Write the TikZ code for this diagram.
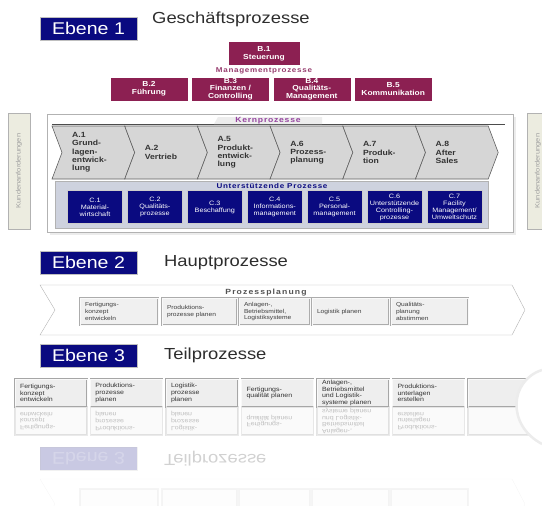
\documentclass[tikz,border=0pt]{standalone}
\usepackage{fontspec}
\setmainfont{Liberation Sans}[FakeStretch=1.15]
\usetikzlibrary{positioning}
\definecolor{ebenenblau}{RGB}{10,10,128}
\definecolor{mgmtrot}{RGB}{140,32,82}
\definecolor{mgmttext}{RGB}{150,60,110}
\definecolor{kerntext}{RGB}{150,70,160}
\definecolor{kerngrau}{RGB}{214,214,214}
\definecolor{stuetzgrau}{RGB}{206,210,222}
\definecolor{seitenbeige}{RGB}{236,236,224}
\definecolor{titelgrau}{RGB}{45,45,45}
\tikzset{
  ebene/.style={fill=ebenenblau, draw=gray!50, text=white, minimum width=97pt, minimum height=23pt, inner sep=0pt, font=\fontsize{17}{17}\selectfont},
  titel/.style={anchor=west, inner sep=0pt, text=titelgrau, font=\fontsize{16}{16}\selectfont},
  mgmt/.style={fill=mgmtrot, draw=white, text=white, minimum width=78pt, minimum height=24pt, inner sep=0pt, align=center, font=\fontsize{7.3}{7.6}\selectfont\bfseries},
  sperr/.style={inner sep=0pt, font=\fontsize{7}{7}\selectfont\bfseries\addfontfeature{LetterSpace=10}},
  kern/.style={fill=kerngrau, draw=gray!75!black, line width=0.6pt},
  kerntext/.style={anchor=west, align=left, inner sep=0pt, text=black!80, font=\fontsize{7.5}{8.3}\selectfont\bfseries},
  stuetz/.style={fill=ebenenblau, draw=gray!40, text=white, minimum width=55pt, minimum height=33pt, inner sep=1pt, align=center, font=\fontsize{6.3}{7}\selectfont},
  seite/.style={fill=seitenbeige, draw=gray!60, rotate=90, minimum width=116pt, minimum height=22pt, inner sep=0pt, text=gray!75, font=\fontsize{6.5}{6.5}\selectfont},
  planbox/.style={fill=gray!12, draw=gray!65, double=gray!5, double distance=0.8pt, text width=#1, minimum height=27pt, inner xsep=5pt, align=left, text=black!75, font=\fontsize{5.8}{6.8}\selectfont},
  teilbox/.style={fill=gray!13, draw=gray!70, double=gray!5, double distance=0.8pt, text width=#1, minimum height=28pt, inner xsep=5pt, inner ysep=0.3pt, align=left, text=black!80, font=\fontsize{6.1}{6.6}\selectfont}
}
\newcommand{\kernpfeil}[3]{%
  \draw[kern] (#1,126) -- ++(72.7,0) -- ++(10,26.5) -- ++(-10,26.5) -- ++(-72.7,0) -- ++(10,-26.5) -- cycle;
  \node[kerntext] (#2) at (#1+20,152.5) {#3};
}
\newcommand{\ebenekopf}[4]{%
  \node[ebene] (#1) at (88.5,#2) {#3};
  \node[titel] (#1titel) at (164,#2) {#4};
}
\newcommand{\planumriss}{%
  \draw[fill=white, draw=gray!60] (40,285) -- (512,285) -- (525,310) -- (512,335) -- (40,335) -- (55,310) -- cycle;
}
\newcommand{\planpfeil}[1]{%
  \planumriss
  \node[sperr, text=gray!65!black, font=\fontsize{7.5}{7.5}\selectfont\bfseries\addfontfeature{LetterSpace=15}] (#1titel) at (266,293) {Prozessplanung};
  \node[planbox=68pt] (#1p1) at (119,311.5) {Fertigungs-\\konzept\\entwickeln};
  \node[planbox=65pt] (#1p2) at (199.5,311.5) {Produktions-\\prozesse planen};
  \node[planbox=61pt] (#1p3) at (274.5,311.5) {Anlagen-,\\Betriebsmittel,\\Logistiksysteme};
  \node[planbox=67pt] (#1p4) at (350.5,311.5) {Logistik planen};
  \node[planbox=67pt] (#1p5) at (429.5,311.5) {Qualitäts-\\planung\\abstimmen};
}
\newcommand{\teilreihe}[1]{%
  \node[teilbox=62pt] (#1t1) at (51,393) {Fertigungs-\\konzept\\entwickeln};
  \node[teilbox=62pt] (#1t2) at (126.5,393) {Produktions-\\prozesse\\planen};
  \node[teilbox=62pt] (#1t3) at (202,393) {Logistik-\\prozesse\\planen};
  \node[teilbox=62pt] (#1t4) at (277.5,393) {Fertigungs-\\qualität planen};
  \node[teilbox=62pt] (#1t5) at (353,393) {Anlagen-,\\Betriebsmittel\\und Logistik-\\systeme planen};
  \node[teilbox=62pt] (#1t6) at (428.5,393) {Produktions-\\unterlagen\\erstellen};
  \node[teilbox=64pt] (#1t7) at (505,393) {};
}

\begin{document}
\begin{tikzpicture}[x=1pt, y=-1pt]
\useasboundingbox (0,0) rectangle (542,506);
\clip (0,0) rectangle (542,506);

% Ebene 1
\node[ebene] (e1) at (88.5,28.5) {Ebene 1};
\node[titel] (e1titel) at (152,19) {Geschäftsprozesse};

% Managementprozesse
\node[mgmt, minimum width=72pt] (b1) at (264,53.5) {B.1\\Steuerung};
\node[sperr, text=mgmttext] (mgmt) at (264,71) {Managementprozesse};
\node[mgmt] (b2) at (149,89) {B.2\\Führung};
\node[mgmt, right=3pt of b2] (b3) {B.3\\Finanzen /\\Controlling};
\node[mgmt, right=3pt of b3] (b4) {B.4\\Qualitäts-\\Management};
\node[mgmt, right=3pt of b4] (b5) {B.5\\Kommunikation};

% Kundenanforderungen links und rechts
\node[seite] (kundelinks) at (19,171) {Kundenanforderungen};
\node[seite] (kunderechts) at (538,171) {Kundenanforderungen};

% Rahmen
\fill[gray!15] (50,117) rectangle (516,235);
\draw[fill=white, draw=gray!60] (47,114) rectangle (513,232);

% Kernprozesse
\draw[gray!60!black, line width=0.8pt] (52,124) -- (505,124);
\fill[gray!14] (214,124) -- (218,117) -- (322,117) -- (322,124) -- cycle;
\node[sperr, text=kerntext, font=\fontsize{7.5}{7.5}\selectfont\bfseries\addfontfeature{LetterSpace=10}] (kern) at (268,121) {Kernprozesse};
\kernpfeil{52}{a1}{A.1\\Grund-\\lagen-\\entwick-\\lung}
\kernpfeil{124.7}{a2}{A.2\\Vertrieb}
\kernpfeil{197.4}{a5}{A.5\\Produkt-\\entwick-\\lung}
\kernpfeil{270.1}{a6}{A.6\\Prozess-\\planung}
\kernpfeil{342.8}{a7}{A.7\\Produk-\\tion}
\kernpfeil{415.5}{a8}{A.8\\After\\Sales}

% Unterstuetzende Prozesse
\node[fill=stuetzgrau, draw=gray!60, minimum width=433pt, minimum height=47pt] (stuetzfeld) at (272,205) {};
\node[sperr, text=ebenenblau] (stuetzlabel) at (272,186) {Unterstützende Prozesse};
\node[stuetz] (c1) at (95,207) {C.1\\Material-\\wirtschaft};
\node[stuetz, right=4.5pt of c1] (c2) {C.2\\Qualitäts-\\prozesse};
\node[stuetz, right=4.5pt of c2] (c3) {C.3\\Beschaffung};
\node[stuetz, right=4.5pt of c3] (c4) {C.4\\Informations-\\management};
\node[stuetz, right=4.5pt of c4] (c5) {C.5\\Personal-\\management};
\node[stuetz, right=4.5pt of c5] (c6) {C.6\\Unterstützende\\Controlling-\\prozesse};
\node[stuetz, right=4.5pt of c6] (c7) {C.7\\Facility\\Management/\\Umweltschutz};

% Ebene 2
\ebenekopf{e2}{262.5}{Ebene 2}{Hauptprozesse}
\planpfeil{p}

% Ebene 3
\ebenekopf{e3}{355.5}{Ebene 3}{Teilprozesse}
\teilreihe{t}

% Spiegelung
\begin{scope}[shift={(0,814)}, yscale=-1, transform shape, opacity=0.3]
  \teilreihe{s}
\end{scope}
\begin{scope}[shift={(0,814)}, yscale=-1, transform shape, opacity=0.22]
  \ebenekopf{se3}{355.5}{Ebene 3}{Teilprozesse}
\end{scope}
\begin{scope}[shift={(0,814)}, yscale=-1, transform shape, opacity=0.12]
  \planumriss
  \node[planbox=68pt] (spp1) at (119,311.5) {};
  \node[planbox=65pt] (spp2) at (199.5,311.5) {};
  \node[planbox=61pt] (spp3) at (274.5,311.5) {};
  \node[planbox=67pt] (spp4) at (350.5,311.5) {};
  \node[planbox=67pt] (spp5) at (429.5,311.5) {};
\end{scope}

% Bogen rechts
\fill[white] (542,370) .. controls (510,380) and (506,425) .. (542,444) -- cycle;
\draw[gray!15, line width=2.5pt] (542,370) .. controls (510,380) and (506,425) .. (542,444);
\end{tikzpicture}
\end{document}
